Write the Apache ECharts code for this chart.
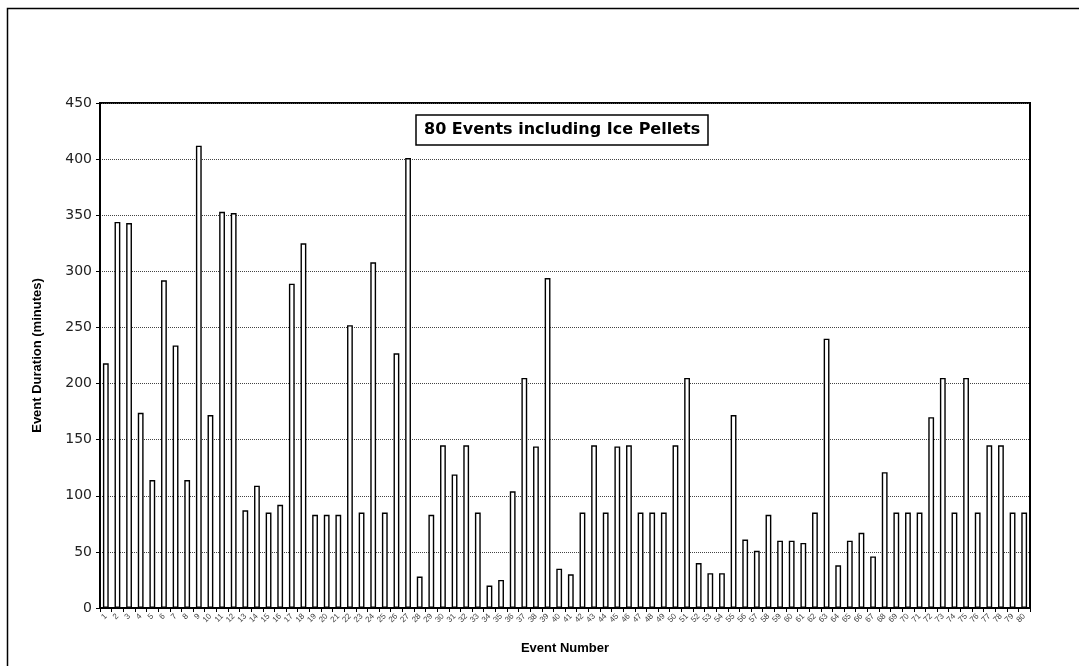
<!DOCTYPE html>
<html>
<head>
<meta charset="utf-8">
<script src="https://cdn.jsdelivr.net/npm/echarts@6/dist/echarts.min.js"></script>
<style>html,body{margin:0;padding:0;background:#fff;}#c{width:1079px;height:666px;}</style>
</head>
<body>
<div id="c"></div>
<script>
const categories = Array.from({length: 80}, (_, i) => String(i + 1));
const durations = [
  218, 344, 343, 174, 114, 292, 234, 114, 412, 172,
  353, 352, 87, 109, 85, 92, 289, 325, 83, 83,
  83, 252, 85, 308, 85, 227, 401, 28, 83, 145,
  119, 145, 85, 20, 25, 104, 205, 144, 294, 35,
  30, 85, 145, 85, 144, 145, 85, 85, 85, 145,
  205, 40, 31, 31, 172, 61, 51, 83, 60, 60,
  58, 85, 240, 38, 60, 67, 46, 121, 85, 85,
  85, 170, 205, 85, 205, 85, 145, 145, 85, 85
];
const yTicks = [0, 50, 100, 150, 200, 250, 300, 350, 400, 450];
const titleText = '80 Events including Ice Pellets';
const xName = 'Event Number';
const yName = 'Event Duration (minutes)';

const chart = echarts.init(document.getElementById('c'), null, {renderer: 'canvas'});
chart.setOption({
  animation: false,
  backgroundColor: '#fff',
  title: {
    text: titleText,
    left: 416, top: 115,
    padding: [7, 8, 7, 8],
    borderColor: '#000', borderWidth: 1.5,
    textStyle: {fontFamily: 'DejaVu Sans', fontWeight: 'bold', fontSize: 16, color: '#000'}
  },
  graphic: [{
    type: 'rect', left: 5, top: 6, silent: true,
    shape: {width: 1100, height: 700},
    style: {fill: 'none', stroke: '#000', lineWidth: 1.5}
  }],
  grid: {
    left: 100, right: 49, top: 103, bottom: 58,
    show: true, borderColor: '#000', borderWidth: 2, backgroundColor: 'transparent'
  },
  xAxis: {
    type: 'category',
    data: categories,
    name: xName,
    nameLocation: 'middle',
    nameGap: 34,
    nameTextStyle: {fontFamily: 'Liberation Sans', fontWeight: 'bold', fontSize: 13, color: '#000'},
    axisLine: {lineStyle: {color: '#000', width: 2}},
    axisTick: {show: true, alignWithLabel: false, length: 4, lineStyle: {color: '#000'}},
    axisLabel: {interval: 0, rotate: 45, fontSize: 8, color: '#444', fontFamily: 'Liberation Sans', margin: 7}
  },
  yAxis: {
    type: 'value',
    min: yTicks[0], max: yTicks[yTicks.length - 1], interval: 50,
    name: yName,
    nameLocation: 'middle',
    nameGap: 56,
    nameTextStyle: {fontFamily: 'Liberation Sans', fontWeight: 'bold', fontSize: 13, color: '#000'},
    axisLine: {show: true, lineStyle: {color: '#000', width: 2}},
    axisTick: {show: true, length: 4, lineStyle: {color: '#000'}},
    axisLabel: {fontSize: 14, color: '#222', fontFamily: 'DejaVu Sans', margin: 8},
    splitLine: {show: true, lineStyle: {color: '#444', type: [1, 1], width: 1}}
  },
  series: [{
    type: 'bar',
    data: durations,
    barWidth: '50%',
    itemStyle: {color: '#fff', borderColor: '#000', borderWidth: 1.4}
  }]
});
</script>
</body>
</html>
